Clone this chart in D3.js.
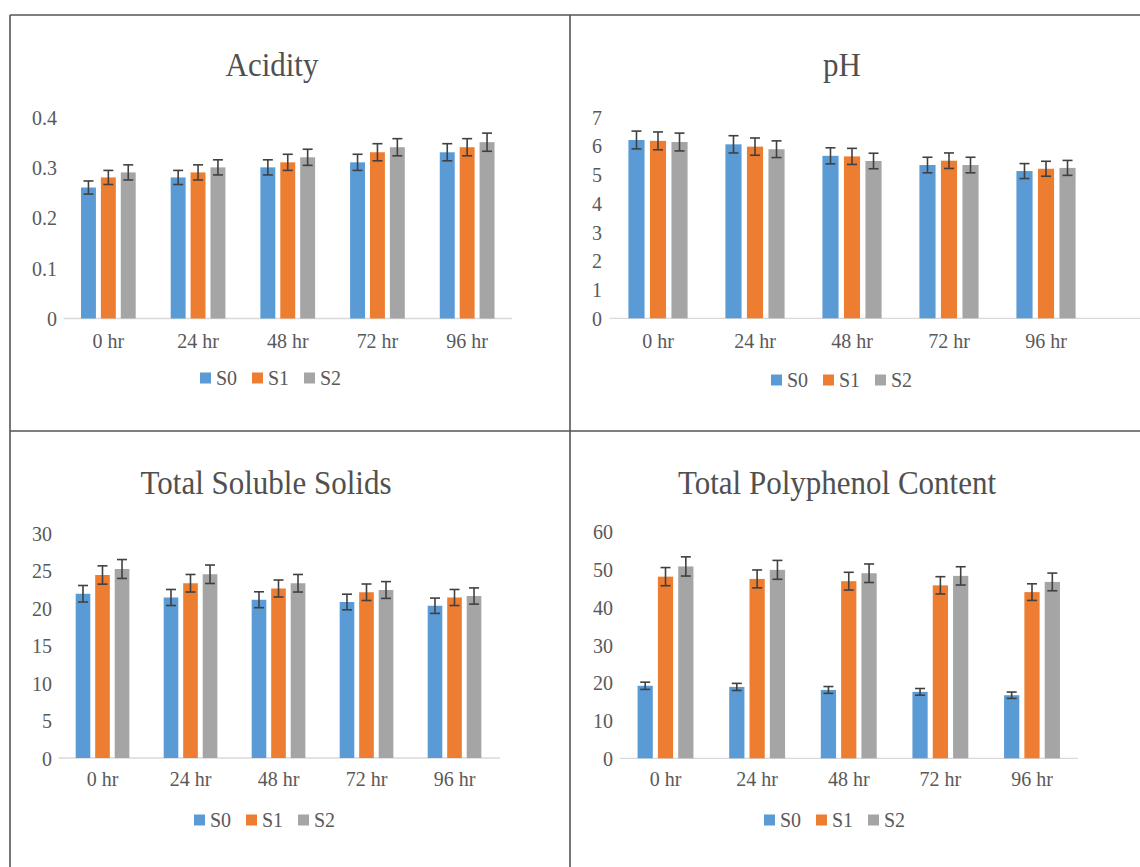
<!DOCTYPE html>
<html>
<head>
<meta charset="utf-8">
<script src="https://cdn.jsdelivr.net/npm/d3@7"></script>
<style>
  html, body { margin: 0; padding: 0; background: #fff; }
  svg { display: block; }
  svg text { transform-box: fill-box; transform-origin: center; transform: scaleY(1.1); }
</style>
</head>
<body>
<svg id="chart" width="1140" height="867"></svg>
<script>
// ---------------- DATA ----------------
const categories = ["0 hr", "24 hr", "48 hr", "72 hr", "96 hr"];
const seriesNames = ["S0", "S1", "S2"];
const seriesColors = ["#5B9BD5", "#ED7D31", "#A5A5A5"];

// Acidity
const acidityS0 = [0.26, 0.28, 0.30, 0.31, 0.33];
const acidityS1 = [0.28, 0.29, 0.31, 0.33, 0.34];
const acidityS2 = [0.29, 0.30, 0.32, 0.34, 0.35];
const acidityErrS0 = [0.013, 0.014, 0.015, 0.016, 0.017];
const acidityErrS1 = [0.014, 0.015, 0.016, 0.017, 0.017];
const acidityErrS2 = [0.015, 0.015, 0.016, 0.017, 0.018];
const acidityTicks = [0, 0.1, 0.2, 0.3, 0.4];

// pH
const phS0 = [6.20, 6.05, 5.65, 5.33, 5.12];
const phS1 = [6.17, 5.97, 5.63, 5.48, 5.20];
const phS2 = [6.13, 5.88, 5.47, 5.33, 5.23];
const phErrS0 = [0.31, 0.30, 0.28, 0.27, 0.26];
const phErrS1 = [0.31, 0.30, 0.28, 0.27, 0.26];
const phErrS2 = [0.31, 0.29, 0.27, 0.27, 0.26];
const phTicks = [0, 1, 2, 3, 4, 5, 6, 7];

// Total Soluble Solids
const tssS0 = [21.9, 21.4, 21.1, 20.8, 20.3];
const tssS1 = [24.4, 23.3, 22.6, 22.1, 21.4];
const tssS2 = [25.2, 24.5, 23.3, 22.4, 21.6];
const tssErrS0 = [1.10, 1.07, 1.06, 1.04, 1.02];
const tssErrS1 = [1.22, 1.17, 1.13, 1.10, 1.07];
const tssErrS2 = [1.26, 1.23, 1.17, 1.12, 1.08];
const tssTicks = [0, 5, 10, 15, 20, 25, 30];

// Total Polyphenol Content
const tpcS0 = [19.2, 18.9, 18.1, 17.6, 16.7];
const tpcS1 = [48.1, 47.5, 46.9, 45.8, 44.0];
const tpcS2 = [50.8, 49.9, 49.0, 48.3, 46.7];
const tpcErrS0 = [0.96, 0.94, 0.90, 0.88, 0.84];
const tpcErrS1 = [2.40, 2.37, 2.35, 2.29, 2.20];
const tpcErrS2 = [2.54, 2.50, 2.45, 2.42, 2.34];
const tpcTicks = [0, 10, 20, 30, 40, 50, 60];

// ---------------- LAYOUT ----------------
const panels = [
  { title: "Acidity", values: [acidityS0, acidityS1, acidityS2], errs: [acidityErrS0, acidityErrS1, acidityErrS2],
    ticks: acidityTicks, fmt: d => d === 0 ? "0" : d3.format(".1f")(d),
    x0: 63.5, x1: 512, yTop: 117, yBot: 318.5, lineEnd: 512, tickRight: 57,
    titleX: 272, titleY: 65, catY: 340, legY: 378, legX: 272 },
  { title: "pH", values: [phS0, phS1, phS2], errs: [phErrS0, phErrS1, phErrS2],
    ticks: phTicks, fmt: d => String(d),
    x0: 609.5, x1: 1094.5, yTop: 117, yBot: 318.3, lineEnd: 1140, tickRight: 602,
    titleX: 842, titleY: 65, catY: 340, legY: 380, legX: 843 },
  { title: "Total Soluble Solids", values: [tssS0, tssS1, tssS2], errs: [tssErrS0, tssErrS1, tssErrS2],
    ticks: tssTicks, fmt: d => String(d),
    x0: 58.5, x1: 498.5, yTop: 533, yBot: 758, lineEnd: 500, tickRight: 52,
    titleX: 266, titleY: 482, catY: 778, legY: 820, legX: 266 },
  { title: "Total Polyphenol Content", values: [tpcS0, tpcS1, tpcS2], errs: [tpcErrS0, tpcErrS1, tpcErrS2],
    ticks: tpcTicks, fmt: d => String(d),
    x0: 619.7, x1: 1077.8, yTop: 531.7, yBot: 758.3, lineEnd: 1078, tickRight: 613,
    titleX: 837, titleY: 482, catY: 778, legY: 820, legX: 836 }
];

const svg = d3.select("#chart");
const FONT = "'Liberation Serif', 'Times New Roman', serif";
const textColor = "#595959";

// frame lines
const frame = svg.append("g").attr("stroke", "#555").attr("stroke-width", 1.6).attr("fill", "none");
frame.append("line").attr("x1", 10).attr("x2", 1140).attr("y1", 15).attr("y2", 15);
frame.append("line").attr("x1", 10).attr("x2", 10).attr("y1", 15).attr("y2", 867);
frame.append("line").attr("x1", 570).attr("x2", 570).attr("y1", 15).attr("y2", 867);
frame.append("line").attr("x1", 10).attr("x2", 1140).attr("y1", 431).attr("y2", 431);

panels.forEach(p => {
  const g = svg.append("g");
  const maxTick = p.ticks[p.ticks.length - 1];
  const y = d3.scaleLinear().domain([0, maxTick]).range([p.yBot, p.yTop]);
  const x = d3.scaleBand().domain(categories).range([p.x0, p.x1]).paddingInner(0.39).paddingOuter(0.195);
  const xs = d3.scaleBand().domain(seriesNames).range([0, x.bandwidth()]).paddingInner(0.25).paddingOuter(0);

  // title
  g.append("text").attr("x", p.titleX).attr("y", p.titleY).attr("text-anchor", "middle")
    .attr("dominant-baseline", "central")
    .attr("font-family", FONT).attr("font-size", 31).attr("fill", "#505050").text(p.title);

  // y axis labels
  const yAxis = d3.axisLeft(y).tickValues(p.ticks).tickFormat(p.fmt).tickSize(0).tickPadding(0);
  const ya = g.append("g").attr("transform", `translate(${p.tickRight},0)`).call(yAxis);
  ya.select(".domain").remove();
  ya.selectAll("text").attr("font-family", FONT).attr("font-size", 20).attr("fill", textColor);

  // baseline
  g.append("line").attr("x1", p.x0).attr("x2", p.lineEnd).attr("y1", y(0)).attr("y2", y(0))
    .attr("stroke", "#D9D9D9").attr("stroke-width", 1.3);

  // x axis labels
  const xAxis = d3.axisBottom(x).tickSize(0).tickPadding(0);
  const xa = g.append("g").attr("transform", `translate(0,${p.catY})`).call(xAxis);
  xa.select(".domain").remove();
  xa.selectAll("text").attr("font-family", FONT).attr("font-size", 20).attr("fill", textColor)
    .attr("dy", "0.35em");

  // bars
  seriesNames.forEach((s, si) => {
    const sg = g.append("g");
    sg.selectAll("rect").data(categories).join("rect")
      .attr("x", c => x(c) + xs(s))
      .attr("width", xs.bandwidth())
      .attr("y", (c, i) => y(p.values[si][i]))
      .attr("height", (c, i) => y(0) - y(p.values[si][i]))
      .attr("fill", seriesColors[si]);
  });

  // error bars
  seriesNames.forEach((s, si) => {
    const eg = g.append("g").attr("stroke", "#404040").attr("stroke-width", 1.6).attr("fill", "none");
    categories.forEach((c, i) => {
      const cx = x(c) + xs(s) + xs.bandwidth() / 2;
      const v = p.values[si][i], e = p.errs[si][i];
      const yHi = y(v + e), yLo = y(v - e);
      eg.append("line").attr("x1", cx).attr("x2", cx).attr("y1", yHi).attr("y2", yLo);
      eg.append("line").attr("x1", cx - 5).attr("x2", cx + 5).attr("y1", yHi).attr("y2", yHi);
      eg.append("line").attr("x1", cx - 5).attr("x2", cx + 5).attr("y1", yLo).attr("y2", yLo);
    });
  });

  // legend
  const lg = g.append("g");
  const entryW = 40, gap = 12;
  const totalW = seriesNames.length * entryW + (seriesNames.length - 1) * gap;
  let lx = p.legX - totalW / 2;
  seriesNames.forEach((s, si) => {
    lg.append("rect").attr("x", lx).attr("y", p.legY - 5.5).attr("width", 11).attr("height", 11)
      .attr("fill", seriesColors[si]);
    lg.append("text").attr("x", lx + 16).attr("y", p.legY).attr("dominant-baseline", "central")
      .attr("font-family", FONT).attr("font-size", 20).attr("fill", textColor).text(s);
    lx += entryW + gap;
  });
});
</script>
</body>
</html>
